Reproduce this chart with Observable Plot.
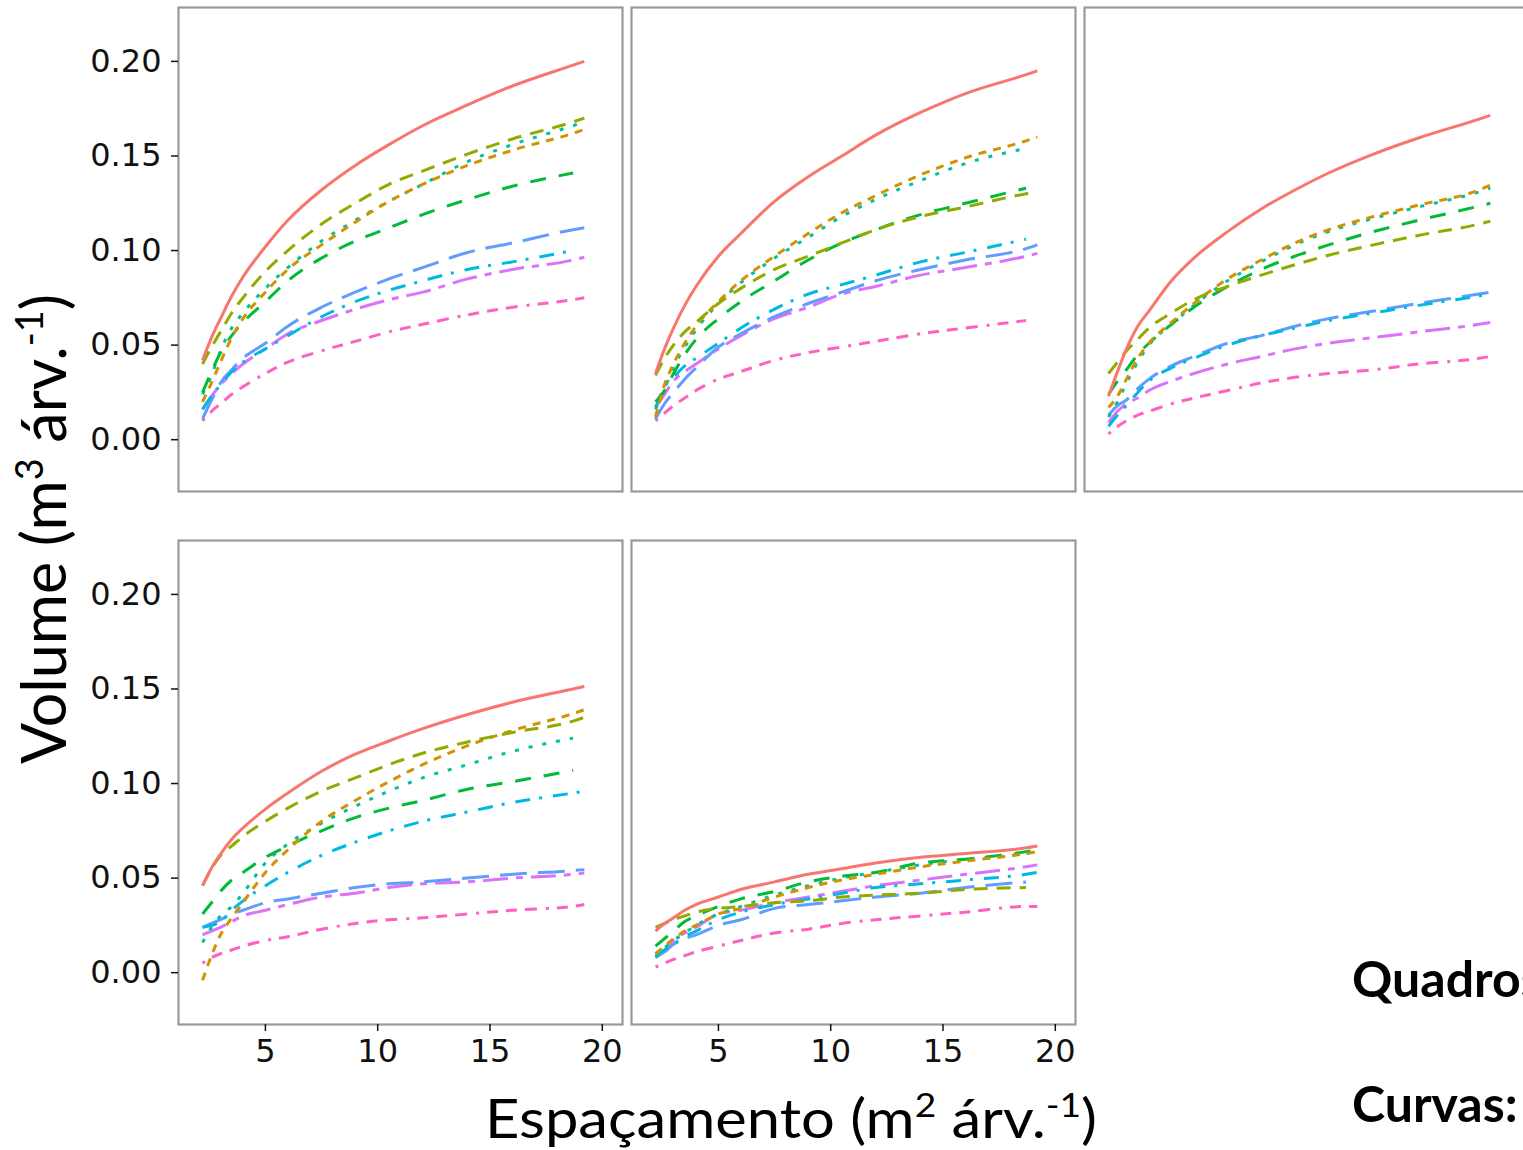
<!DOCTYPE html>
<html>
<head>
<meta charset="utf-8">
<script src="https://cdn.jsdelivr.net/npm/d3@7"></script>
<script src="https://cdn.jsdelivr.net/npm/@observablehq/plot@0.6"></script>
<style>
  html, body { margin: 0; padding: 0; background: #fff; overflow: hidden; }
  #wrap { position: relative; width: 1523px; height: 1150px; overflow: hidden; background: #fff; }
  #chart { position: absolute; left: 0; top: 0; width: 1540px; }
  #overlay { position: absolute; left: 0; top: 0; }
</style>
</head>
<body>
<div id="wrap">
  <div id="chart"></div>
  <svg id="overlay" width="1523" height="1150"></svg>
</div>
<script>
// ---- data -------------------------------------------------------------
const espacamento = [2.2, 2.6, 3, 3.5, 4, 5, 6, 7.5, 9, 10.5, 12, 14, 16, 18.7, 19.2];
const curvas = ["Curva 1", "Curva 2", "Curva 3", "Curva 4", "Curva 5", "Curva 6", "Curva 7", "Curva 8", "Curva 9"];
const cores = ["#F8766D", "#D39200", "#93AA00", "#00BA38", "#00C19F", "#00B9E3", "#619CFF", "#DB72FB", "#FF61C3"];
const tracos = [null, "8,7", "14,9", "16,13", "4,10", "15,9,3,11", "27,11", "25,8,7,8", "3,8,11,8,11,8,12,9"];
const quadroCol = [0, 1, 2, 0, 1];
const quadroRow = [0, 0, 0, 1, 1];
const yTicks = [0, 0.05, 0.10, 0.15, 0.20];
const xTicks = [5, 10, 15, 20];
const xAxisCols = [0, 1];

const quadro1 = [
  [0.042,0.054,0.064,0.076,0.086,0.102,0.116,0.132,0.145,0.156,0.166,0.177,0.187,0.198,0.200],
  [0.020,0.030,0.041,0.054,0.064,0.078,0.090,0.103,0.115,0.126,0.135,0.145,0.153,0.162,0.164],
  [0.040,0.049,0.057,0.067,0.075,0.089,0.100,0.114,0.125,0.135,0.142,0.151,0.159,0.168,0.170],
  [0.025,0.036,0.046,0.055,0.062,0.073,0.084,0.096,0.105,0.112,0.119,0.127,0.134,0.141,null],
  [0.024,0.034,0.047,0.059,0.067,0.080,0.091,0.105,0.116,0.126,0.135,0.147,0.156,0.166,0.168],
  [0.016,0.023,0.029,0.036,0.041,0.048,0.055,0.065,0.073,0.079,0.084,0.090,0.094,0.100,null],
  [0.011,0.021,0.030,0.037,0.043,0.051,0.060,0.070,0.078,0.085,0.091,0.099,0.104,0.111,0.112],
  [0.016,0.023,0.029,0.035,0.040,0.048,0.056,0.063,0.069,0.074,0.078,0.085,0.090,0.095,0.0965],
  [0.010,0.015,0.019,0.024,0.028,0.035,0.041,0.047,0.052,0.057,0.061,0.066,0.070,0.074,0.075]
];
const quadro2 = [
  [0.035,0.048,0.059,0.071,0.081,0.097,0.109,0.126,0.139,0.150,0.161,0.173,0.183,0.193,0.195],
  [0.012,0.029,0.040,0.051,0.060,0.073,0.084,0.097,0.109,0.120,0.129,0.140,0.149,0.158,0.160],
  [0.034,0.043,0.050,0.057,0.062,0.072,0.080,0.090,0.097,0.104,0.111,0.118,0.123,0.130,0.131],
  [0.020,0.026,0.035,0.045,0.053,0.064,0.073,0.084,0.095,0.104,0.111,0.119,0.125,0.133,null],
  [0.016,0.027,0.038,0.049,0.058,0.072,0.083,0.096,0.107,0.118,0.127,0.137,0.146,0.154,null],
  [0.017,0.028,0.033,0.039,0.043,0.051,0.059,0.069,0.077,0.082,0.087,0.094,0.099,0.106,null],
  [0.011,0.019,0.025,0.032,0.038,0.049,0.056,0.065,0.072,0.078,0.084,0.090,0.095,0.101,0.103],
  [0.017,0.024,0.031,0.036,0.040,0.048,0.055,0.064,0.070,0.077,0.081,0.087,0.091,0.097,0.0985],
  [0.010,0.014,0.018,0.022,0.026,0.032,0.036,0.042,0.046,0.049,0.052,0.056,0.059,0.063,null]
];
const quadro3 = [
  [0.023,0.036,0.048,0.060,0.068,0.084,0.096,0.110,0.122,0.132,0.141,0.151,0.1595,0.1695,0.1715],
  [0.017,0.023,0.032,0.043,0.051,0.062,0.072,0.085,0.095,0.104,0.111,0.118,0.124,0.132,0.1345],
  [0.035,0.041,0.047,0.053,0.059,0.067,0.074,0.081,0.087,0.0925,0.0975,0.103,0.108,0.114,0.1155],
  [0.024,0.031,0.037,0.045,0.051,0.061,0.070,0.081,0.090,0.097,0.103,0.110,0.116,0.1235,0.125],
  [0.012,0.020,0.030,0.041,0.050,0.061,0.071,0.084,0.094,0.103,0.110,0.117,0.123,0.131,0.133],
  [0.007,0.013,0.018,0.025,0.031,0.038,0.043,0.050,0.055,0.059,0.063,0.067,0.071,0.076,0.077],
  [0.013,0.018,0.021,0.027,0.032,0.039,0.044,0.051,0.055,0.060,0.064,0.068,0.072,0.077,0.078],
  [0.009,0.015,0.019,0.022,0.026,0.031,0.035,0.040,0.044,0.048,0.051,0.054,0.057,0.061,0.062],
  [0.003,0.007,0.010,0.013,0.015,0.019,0.022,0.026,0.030,0.033,0.035,0.037,0.040,0.043,0.044]
];
const quadro4 = [
  [0.046,0.0554,0.0627,0.0705,0.0765,0.0865,0.095,0.1065,0.1155,0.1225,0.129,0.1365,0.143,0.150,0.1513],
  [-0.004,0.009,0.020,0.029,0.037,0.053,0.065,0.080,0.091,0.101,0.110,0.120,0.128,0.137,0.139],
  [0.046,0.055,0.062,0.067,0.072,0.080,0.087,0.096,0.103,0.110,0.116,0.122,0.127,0.133,0.135],
  [0.031,0.037,0.043,0.049,0.053,0.061,0.067,0.075,0.082,0.087,0.091,0.097,0.101,0.107,null],
  [0.016,0.024,0.030,0.035,0.042,0.058,0.068,0.079,0.088,0.096,0.103,0.110,0.117,0.124,null],
  [0.024,0.025,0.027,0.033,0.038,0.046,0.053,0.062,0.069,0.075,0.080,0.085,0.090,0.095,0.096],
  [0.024,0.026,0.028,0.031,0.033,0.037,0.039,0.042,0.045,0.047,0.048,0.050,0.052,0.054,0.0545],
  [0.020,0.022,0.024,0.027,0.030,0.033,0.036,0.040,0.042,0.045,0.047,0.048,0.050,0.052,0.0527],
  [0.005,0.008,0.010,0.012,0.014,0.017,0.019,0.023,0.026,0.028,0.029,0.031,0.033,0.035,0.036]
];
const quadro5 = [
  [0.022,0.026,0.029,0.033,0.036,0.040,0.044,0.048,0.052,0.055,0.058,0.061,0.063,0.066,0.067],
  [0.010,0.014,0.018,0.022,0.025,0.031,0.034,0.040,0.045,0.049,0.052,0.056,0.059,0.063,0.064],
  [0.024,0.026,0.028,0.030,0.032,0.034,0.035,0.037,0.038,0.040,0.041,0.042,0.044,0.045,null],
  [0.014,0.018,0.022,0.027,0.030,0.035,0.039,0.043,0.048,0.051,0.053,0.058,0.060,0.064,0.065],
  [0.008,0.013,0.017,0.021,0.025,0.031,0.035,0.041,0.046,0.050,0.053,0.057,0.060,0.063,0.064],
  [0.009,0.012,0.015,0.019,0.022,0.028,0.032,0.036,0.039,0.042,0.045,0.047,0.049,0.052,0.053],
  [0.008,0.011,0.015,0.018,0.020,0.025,0.028,0.034,0.036,0.038,0.040,0.042,0.045,0.048,null],
  [0.009,0.012,0.017,0.021,0.024,0.031,0.033,0.037,0.040,0.043,0.046,0.049,0.052,0.056,0.057],
  [0.003,0.005,0.007,0.009,0.011,0.014,0.017,0.021,0.023,0.026,0.028,0.030,0.032,0.035,0.035]
];

// ---- table ------------------------------------------------------------
const quadros = [quadro1, quadro2, quadro3, quadro4, quadro5];
const rows = [];
quadros.forEach((Q, qi) => Q.forEach((vals, si) => vals.forEach((v, k) => {
  if (v != null) rows.push({quadro: qi + 1, col: quadroCol[qi], row: quadroRow[qi], curva: curvas[si], x: espacamento[k], v});
})));

const drawOrder = [8, 7, 6, 5, 4, 3, 1, 2, 0];
const lineMarks = drawOrder.map(si => Plot.line(rows.filter(d => d.curva === curvas[si]), {
  x: "x", y: "v", fx: "col", fy: "row", z: "quadro",
  stroke: cores[si], strokeWidth: 3, strokeDasharray: tracos[si] || undefined,
  strokeLinecap: "butt", curve: "monotone-x"
}));

// x-axis ticks only under the two bottom panels
const xAxisData = xAxisCols.flatMap(c => xTicks.map(x => ({x, col: c, row: 1})));
const tickFont = "'DejaVu Sans', 'Liberation Sans', sans-serif";
const tickFontSize = 32;

function build(dataDrivenX) {
  const xAxis = dataDrivenX
    ? Plot.axisX(xAxisData.map(d => d.x), {fx: xAxisData.map(d => d.col), fy: xAxisData.map(d => d.row),
        facetAnchor: null, tickSize: 7, tickPadding: 8, fontSize: tickFontSize, color: "#111", strokeWidth: 1.5, label: null})
    : Plot.axisX(xTicks, {tickSize: 7, tickPadding: 8, fontSize: tickFontSize, facetAnchor: "bottom", color: "#111", strokeWidth: 1.5, label: null});
  return Plot.plot({
    width: 1540,
    height: 1075,
    marginLeft: 177,
    marginRight: 10,
    marginTop: 7,
    marginBottom: 51,
    style: {fontFamily: tickFont, background: "#fff", maxWidth: "none", overflow: "visible"},
    x: {domain: [1.13, 20.9], axis: null},
    y: {domain: [-0.0274, 0.2285], axis: null},
    fx: {domain: [0, 1, 2], paddingInner: 0.0198, paddingOuter: 0, axis: null, label: null},
    fy: {domain: [0, 1], paddingInner: 0.092, paddingOuter: 0, axis: null, label: null},
    marks: [
      ...lineMarks,
      Plot.frame({stroke: "#999", strokeWidth: 2.2}),
      Plot.axisY(yTicks, {tickFormat: d3.format(".2f"), tickSize: 7, tickPadding: 10, fontSize: tickFontSize,
        facetAnchor: "left", color: "#111", strokeWidth: 1.5, label: null}),
      xAxis
    ]
  });
}
let chart;
try { chart = build(true); } catch (e) { console.error(e); chart = build(false); }
chart.style.maxWidth = "none";
document.getElementById("chart").appendChild(chart);

// ---- titles (overlay) ---------------------------------------------------
const ov = d3.select("#overlay");
function titleText(parent, parts, opts) {
  const t = parent.append("text")
    .attr("font-family", "Lato, 'Open Sans', sans-serif")
    .attr("font-size", 50)
    .attr("fill", "#000")
    .attr("text-anchor", "middle");
  let shift = 0;
  parts.forEach(p => {
    const ts = t.append("tspan");
    if (p.sup) {
      ts.attr("font-size", 31).attr("dy", -19 - shift);
      shift = -19;
    } else {
      ts.attr("font-size", 50);
      if (shift) ts.attr("dy", -shift);
      shift = 0;
    }
    ts.text(p.t);
  });
  const len = t.node().getComputedTextLength();
  const sx = opts.length / len;
  const sy = opts.cap / (0.7165 * 50);
  t.attr("transform", `translate(${opts.x},${opts.y}) rotate(${opts.rot || 0}) scale(${sx},${sy})`);
  return t;
}
titleText(ov, [{t: "Volume (m"}, {t: "3", sup: true}, {t: " árv."}, {t: "-1", sup: true}, {t: ")"}],
  {x: 66, y: 529, rot: -90, length: 470, cap: 44});
titleText(ov, [{t: "Espaçamento (m"}, {t: "2", sup: true}, {t: " árv."}, {t: "-1", sup: true}, {t: ")"}],
  {x: 791, y: 1138, length: 612, cap: 39});

ov.append("text").attr("x", 1352).attr("y", 997)
  .attr("font-family", "Lato, sans-serif").attr("font-weight", 700).attr("font-size", 50)
  .attr("fill", "#000").text("Quadros:");
ov.append("text").attr("x", 1352).attr("y", 1122)
  .attr("font-family", "Lato, sans-serif").attr("font-weight", 700).attr("font-size", 50)
  .attr("fill", "#000").text("Curvas:");
</script>
</body>
</html>
